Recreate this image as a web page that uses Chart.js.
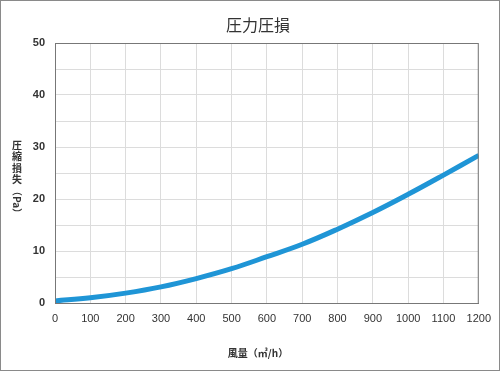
<!DOCTYPE html>
<html>
<head>
<meta charset="utf-8">
<script src="https://cdn.jsdelivr.net/npm/chart.js@4"></script>
<style>
  html, body { margin: 0; padding: 0; background: #fff; }
  #wrap { width: 500px; height: 371px; position: relative; }
</style>
</head>
<body>
<div id="wrap"><canvas id="lossChart" width="500" height="371"></canvas></div>
<script>
// --- datos ---
const flowLabels = [0, 100, 200, 300, 400, 500, 600, 700, 800, 900, 1000, 1100, 1200];
const lossValues = [0.4, 1.0, 1.9, 3.1, 4.7, 6.6, 8.9, 11.3, 14.2, 17.4, 20.9, 24.6, 28.4];
const chartTitle = '圧力圧損';
const xTitle = '風量（㎥/h）';
const yTitleChars = ['圧', '縮', '損', '失'];
const yTitleUnit = '（Pa）';

const cjkFont = "'Noto Sans CJK JP', 'Noto Sans', sans-serif";
const tickFont = "'Liberation Sans', 'Noto Sans', sans-serif";

// titulo, rotulos de ejes y marcos
const decorPlugin = {
    id: 'decor',
    beforeDraw(chart) {
        const { ctx, width, height } = chart;
        ctx.save();
        ctx.fillStyle = '#fff';
        ctx.fillRect(0, 0, width, height);
        ctx.restore();
    },
    afterDraw(chart) {
        const { ctx, chartArea, width, height } = chart;
        ctx.save();

        // marco exterior
        ctx.strokeStyle = '#8a8a8a';
        ctx.lineWidth = 1;
        ctx.strokeRect(0.5, 0.5, width - 1, height - 1);

        // marco del area del grafico
        ctx.strokeStyle = '#777';
        ctx.strokeRect(chartArea.left + 0.5, chartArea.top + 0.5,
            chartArea.right - chartArea.left - 1, chartArea.bottom - chartArea.top);

        // titulo
        ctx.fillStyle = '#333';
        ctx.textAlign = 'center';
        ctx.textBaseline = 'middle';
        ctx.font = `16px ${cjkFont}`;
        ctx.fillText(chartTitle, 258, 25);

        // eje x
        ctx.font = `bold 10px ${cjkFont}`;
        ctx.fillText(xTitle, 258, 353);

        // eje y (vertical)
        let y = 145;
        yTitleChars.forEach(ch => {
            ctx.fillText(ch, 17, y);
            y += 11.5;
        });
        ctx.translate(17, y + 11);
        ctx.rotate(Math.PI / 2);
        ctx.fillText(yTitleUnit, 0, 0);

        ctx.restore();
    }
};

new Chart(document.getElementById('lossChart').getContext('2d'), {
    type: 'line',
    data: {
        labels: flowLabels,
        datasets: [{
            data: flowLabels.map((x, i) => ({ x: x, y: lossValues[i] })),
            borderColor: '#1f95d6',
            borderWidth: 5,
            pointRadius: 0,
            tension: 0.4,
            fill: false
        }]
    },
    options: {
        responsive: false,
        animation: false,
        layout: { padding: { left: 0, right: 19, top: 43, bottom: 0 } },
        scales: {
            x: {
                type: 'linear',
                min: 0,
                max: 1200,
                ticks: {
                    stepSize: 100,
                    padding: 9,
                    color: '#333',
                    maxRotation: 0,
                    font: { family: tickFont, size: 11 },
                    callback: v => String(v)
                },
                grid: { color: '#dcdcdc', drawTicks: false },
                border: { color: '#777' },
                afterFit(scale) { scale.height = 68; }
            },
            y: {
                min: 0,
                max: 50,
                ticks: {
                    stepSize: 5,
                    padding: 10,
                    color: '#333',
                    font: { family: tickFont, size: 11, weight: 'bold' },
                    callback: v => (v % 10 === 0 ? v : '')
                },
                grid: { color: '#dcdcdc', drawTicks: false },
                border: { color: '#777' },
                afterFit(scale) { scale.width = 55; }
            }
        },
        plugins: {
            legend: { display: false },
            tooltip: { enabled: false }
        }
    },
    plugins: [decorPlugin]
});
</script>
</body>
</html>
